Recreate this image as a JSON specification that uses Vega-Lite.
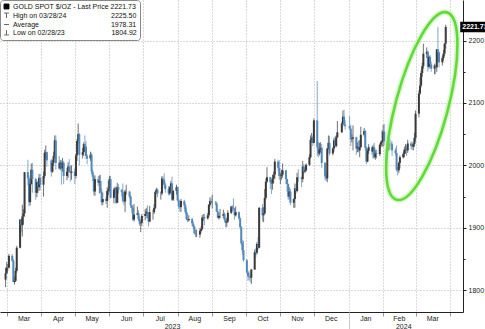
{
"$schema":"https://vega.github.io/schema/vega-lite/v6.json",
"width":463,"height":312,"autosize":{"type":"none"},"padding":{"left":0,"top":0,"right":22,"bottom":17},"background":"white",
"config":{"view":{"stroke":null},"font":"Liberation Sans","axis":{"labelFont":"Liberation Sans","labelFontSize":7,"labelColor":"#222","title":null,"labelFlush":false,"labelOverlap":false}},
"datasets":{
"candles":[
{"d":"2023-02-28","o":1817,"h":1836,"l":1804.92,"c":1827},
{"d":"2023-03-01","o":1827,"h":1845,"l":1826,"c":1836},
{"d":"2023-03-02","o":1836,"h":1842,"l":1831,"c":1836},
{"d":"2023-03-03","o":1836,"h":1858,"l":1835,"c":1855},
{"d":"2023-03-06","o":1855,"h":1858,"l":1845,"c":1847},
{"d":"2023-03-07","o":1847,"h":1850,"l":1813,"c":1813},
{"d":"2023-03-08","o":1813,"h":1822,"l":1809,"c":1815},
{"d":"2023-03-09","o":1815,"h":1836,"l":1813,"c":1831},
{"d":"2023-03-10","o":1831,"h":1871,"l":1828,"c":1868},
{"d":"2023-03-13","o":1868,"h":1914,"l":1867,"c":1913},
{"d":"2023-03-14","o":1913,"h":1913,"l":1893,"c":1904},
{"d":"2023-03-15","o":1904,"h":1937,"l":1886,"c":1918},
{"d":"2023-03-16","o":1918,"h":1930,"l":1905,"c":1923},
{"d":"2023-03-17","o":1923,"h":1989,"l":1918,"c":1989},
{"d":"2023-03-20","o":1989,"h":2009,"l":1968,"c":1979},
{"d":"2023-03-21","o":1979,"h":1984,"l":1934,"c":1941},
{"d":"2023-03-22","o":1941,"h":1973,"l":1936,"c":1970},
{"d":"2023-03-23","o":1970,"h":2003,"l":1969,"c":1993},
{"d":"2023-03-24","o":1993,"h":2004,"l":1956,"c":1978},
{"d":"2023-03-27","o":1978,"h":1980,"l":1945,"c":1956},
{"d":"2023-03-28","o":1956,"h":1974,"l":1949,"c":1973},
{"d":"2023-03-29","o":1973,"h":1976,"l":1955,"c":1965},
{"d":"2023-03-30","o":1965,"h":1986,"l":1959,"c":1980},
{"d":"2023-03-31","o":1980,"h":1987,"l":1960,"c":1969},
{"d":"2023-04-03","o":1969,"h":1990,"l":1950,"c":1983},
{"d":"2023-04-04","o":1983,"h":2025,"l":1979,"c":2020},
{"d":"2023-04-05","o":2020,"h":2032,"l":2010,"c":2021},
{"d":"2023-04-06","o":2021,"h":2022,"l":1998,"c":2008},
{"d":"2023-04-10","o":2008,"h":2010,"l":1982,"c":1990},
{"d":"2023-04-11","o":1990,"h":2009,"l":1988,"c":2004},
{"d":"2023-04-12","o":2004,"h":2022,"l":1999,"c":2015},
{"d":"2023-04-13","o":2015,"h":2048,"l":2011,"c":2040},
{"d":"2023-04-14","o":2040,"h":2048,"l":1993,"c":2004},
{"d":"2023-04-17","o":2004,"h":2015,"l":1994,"c":1995},
{"d":"2023-04-18","o":1995,"h":2009,"l":1992,"c":2005},
{"d":"2023-04-19","o":2005,"h":2008,"l":1969,"c":1995},
{"d":"2023-04-20","o":1995,"h":2012,"l":1990,"c":2004},
{"d":"2023-04-21","o":2004,"h":2007,"l":1970,"c":1983},
{"d":"2023-04-24","o":1983,"h":1996,"l":1976,"c":1990},
{"d":"2023-04-25","o":1990,"h":2005,"l":1980,"c":1998},
{"d":"2023-04-26","o":1998,"h":2010,"l":1990,"c":1990},
{"d":"2023-04-27","o":1990,"h":2000,"l":1974,"c":1988},
{"d":"2023-04-28","o":1988,"h":2000,"l":1977,"c":1990},
{"d":"2023-05-01","o":1990,"h":1995,"l":1970,"c":1983},
{"d":"2023-05-02","o":1983,"h":2019,"l":1979,"c":2016},
{"d":"2023-05-03","o":2016,"h":2042,"l":2007,"c":2039},
{"d":"2023-05-04","o":2039,"h":2067,"l":2034,"c":2050},
{"d":"2023-05-05","o":2050,"h":2052,"l":2000,"c":2017},
{"d":"2023-05-08","o":2017,"h":2028,"l":2011,"c":2021},
{"d":"2023-05-09","o":2021,"h":2037,"l":2015,"c":2034},
{"d":"2023-05-10","o":2034,"h":2048,"l":2022,"c":2030},
{"d":"2023-05-11","o":2030,"h":2039,"l":2010,"c":2015},
{"d":"2023-05-12","o":2015,"h":2018,"l":2002,"c":2011},
{"d":"2023-05-15","o":2011,"h":2022,"l":2007,"c":2017},
{"d":"2023-05-16","o":2017,"h":2020,"l":1986,"c":1990},
{"d":"2023-05-17","o":1990,"h":1993,"l":1975,"c":1982},
{"d":"2023-05-18","o":1982,"h":1985,"l":1952,"c":1958},
{"d":"2023-05-19","o":1958,"h":1984,"l":1951,"c":1978},
{"d":"2023-05-22","o":1978,"h":1983,"l":1967,"c":1972},
{"d":"2023-05-23","o":1972,"h":1984,"l":1955,"c":1975},
{"d":"2023-05-24","o":1975,"h":1985,"l":1956,"c":1958},
{"d":"2023-05-25","o":1958,"h":1963,"l":1936,"c":1941},
{"d":"2023-05-26","o":1941,"h":1956,"l":1936,"c":1946},
{"d":"2023-05-29","o":1946,"h":1950,"l":1938,"c":1943},
{"d":"2023-05-30","o":1943,"h":1965,"l":1932,"c":1959},
{"d":"2023-05-31","o":1959,"h":1975,"l":1952,"c":1962},
{"d":"2023-06-01","o":1962,"h":1983,"l":1957,"c":1978},
{"d":"2023-06-02","o":1978,"h":1983,"l":1947,"c":1948},
{"d":"2023-06-05","o":1948,"h":1964,"l":1939,"c":1961},
{"d":"2023-06-06","o":1961,"h":1966,"l":1954,"c":1963},
{"d":"2023-06-07","o":1963,"h":1966,"l":1938,"c":1940},
{"d":"2023-06-08","o":1940,"h":1972,"l":1940,"c":1965},
{"d":"2023-06-09","o":1965,"h":1970,"l":1955,"c":1961},
{"d":"2023-06-12","o":1961,"h":1962,"l":1950,"c":1957},
{"d":"2023-06-13","o":1957,"h":1971,"l":1940,"c":1943},
{"d":"2023-06-14","o":1943,"h":1959,"l":1936,"c":1942},
{"d":"2023-06-15","o":1942,"h":1961,"l":1925,"c":1958},
{"d":"2023-06-16","o":1958,"h":1969,"l":1953,"c":1958},
{"d":"2023-06-19","o":1958,"h":1959,"l":1947,"c":1950},
{"d":"2023-06-20","o":1950,"h":1952,"l":1932,"c":1936},
{"d":"2023-06-21","o":1936,"h":1937,"l":1924,"c":1932},
{"d":"2023-06-22","o":1932,"h":1934,"l":1911,"c":1913},
{"d":"2023-06-23","o":1913,"h":1938,"l":1910,"c":1921},
{"d":"2023-06-26","o":1921,"h":1934,"l":1920,"c":1923},
{"d":"2023-06-27","o":1923,"h":1928,"l":1911,"c":1914},
{"d":"2023-06-28","o":1914,"h":1918,"l":1903,"c":1907},
{"d":"2023-06-29","o":1907,"h":1911,"l":1893,"c":1908},
{"d":"2023-06-30","o":1908,"h":1922,"l":1903,"c":1919},
{"d":"2023-07-03","o":1919,"h":1930,"l":1912,"c":1922},
{"d":"2023-07-04","o":1922,"h":1932,"l":1919,"c":1926},
{"d":"2023-07-05","o":1926,"h":1936,"l":1916,"c":1915},
{"d":"2023-07-06","o":1915,"h":1925,"l":1902,"c":1910},
{"d":"2023-07-07","o":1910,"h":1935,"l":1909,"c":1925},
{"d":"2023-07-10","o":1925,"h":1929,"l":1913,"c":1925},
{"d":"2023-07-11","o":1925,"h":1938,"l":1922,"c":1932},
{"d":"2023-07-12","o":1932,"h":1960,"l":1930,"c":1957},
{"d":"2023-07-13","o":1957,"h":1964,"l":1954,"c":1961},
{"d":"2023-07-14","o":1961,"h":1963,"l":1949,"c":1955},
{"d":"2023-07-17","o":1955,"h":1958,"l":1945,"c":1955},
{"d":"2023-07-18","o":1955,"h":1983,"l":1952,"c":1979},
{"d":"2023-07-19","o":1979,"h":1982,"l":1969,"c":1977},
{"d":"2023-07-20","o":1977,"h":1987,"l":1964,"c":1969},
{"d":"2023-07-21","o":1969,"h":1972,"l":1956,"c":1962},
{"d":"2023-07-24","o":1962,"h":1967,"l":1952,"c":1955},
{"d":"2023-07-25","o":1955,"h":1966,"l":1952,"c":1965},
{"d":"2023-07-26","o":1965,"h":1975,"l":1956,"c":1971},
{"d":"2023-07-27","o":1971,"h":1982,"l":1943,"c":1945},
{"d":"2023-07-28","o":1945,"h":1961,"l":1943,"c":1959},
{"d":"2023-07-31","o":1959,"h":1969,"l":1953,"c":1965},
{"d":"2023-08-01","o":1965,"h":1966,"l":1942,"c":1944},
{"d":"2023-08-02","o":1944,"h":1946,"l":1930,"c":1934},
{"d":"2023-08-03","o":1934,"h":1938,"l":1926,"c":1933},
{"d":"2023-08-04","o":1933,"h":1946,"l":1925,"c":1943},
{"d":"2023-08-07","o":1943,"h":1945,"l":1930,"c":1936},
{"d":"2023-08-08","o":1936,"h":1939,"l":1922,"c":1925},
{"d":"2023-08-09","o":1925,"h":1931,"l":1912,"c":1914},
{"d":"2023-08-10","o":1914,"h":1923,"l":1909,"c":1912},
{"d":"2023-08-11","o":1912,"h":1920,"l":1910,"c":1914},
{"d":"2023-08-14","o":1914,"h":1916,"l":1902,"c":1907},
{"d":"2023-08-15","o":1907,"h":1910,"l":1899,"c":1902},
{"d":"2023-08-16","o":1902,"h":1904,"l":1890,"c":1891},
{"d":"2023-08-17","o":1891,"h":1897,"l":1885,"c":1889},
{"d":"2023-08-18","o":1889,"h":1897,"l":1885,"c":1889},
{"d":"2023-08-21","o":1889,"h":1899,"l":1884,"c":1895},
{"d":"2023-08-22","o":1895,"h":1902,"l":1892,"c":1898},
{"d":"2023-08-23","o":1898,"h":1920,"l":1896,"c":1916},
{"d":"2023-08-24","o":1916,"h":1922,"l":1911,"c":1917},
{"d":"2023-08-25","o":1917,"h":1922,"l":1904,"c":1915},
{"d":"2023-08-28","o":1915,"h":1924,"l":1913,"c":1920},
{"d":"2023-08-29","o":1920,"h":1938,"l":1917,"c":1937},
{"d":"2023-08-30","o":1937,"h":1949,"l":1934,"c":1943},
{"d":"2023-08-31","o":1943,"h":1947,"l":1938,"c":1940},
{"d":"2023-09-01","o":1940,"h":1953,"l":1931,"c":1940},
{"d":"2023-09-04","o":1940,"h":1943,"l":1936,"c":1939},
{"d":"2023-09-05","o":1939,"h":1942,"l":1925,"c":1926},
{"d":"2023-09-06","o":1926,"h":1929,"l":1915,"c":1916},
{"d":"2023-09-07","o":1916,"h":1924,"l":1913,"c":1919},
{"d":"2023-09-08","o":1919,"h":1930,"l":1915,"c":1919},
{"d":"2023-09-11","o":1919,"h":1929,"l":1915,"c":1922},
{"d":"2023-09-12","o":1922,"h":1925,"l":1909,"c":1913},
{"d":"2023-09-13","o":1913,"h":1915,"l":1901,"c":1908},
{"d":"2023-09-14","o":1908,"h":1916,"l":1901,"c":1910},
{"d":"2023-09-15","o":1910,"h":1928,"l":1908,"c":1924},
{"d":"2023-09-18","o":1924,"h":1935,"l":1922,"c":1934},
{"d":"2023-09-19","o":1934,"h":1936,"l":1926,"c":1931},
{"d":"2023-09-20","o":1931,"h":1947,"l":1928,"c":1930},
{"d":"2023-09-21","o":1930,"h":1932,"l":1913,"c":1920},
{"d":"2023-09-22","o":1920,"h":1934,"l":1918,"c":1925},
{"d":"2023-09-25","o":1925,"h":1926,"l":1912,"c":1915},
{"d":"2023-09-26","o":1915,"h":1917,"l":1897,"c":1901},
{"d":"2023-09-27","o":1901,"h":1903,"l":1872,"c":1875},
{"d":"2023-09-28","o":1875,"h":1880,"l":1857,"c":1864},
{"d":"2023-09-29","o":1864,"h":1879,"l":1846,"c":1848},
{"d":"2023-10-02","o":1848,"h":1850,"l":1827,"c":1828},
{"d":"2023-10-03","o":1828,"h":1832,"l":1815,"c":1822},
{"d":"2023-10-04","o":1822,"h":1830,"l":1816,"c":1821},
{"d":"2023-10-05","o":1821,"h":1826,"l":1813,"c":1820},
{"d":"2023-10-06","o":1820,"h":1834,"l":1810,"c":1833},
{"d":"2023-10-09","o":1833,"h":1865,"l":1833,"c":1861},
{"d":"2023-10-10","o":1861,"h":1867,"l":1853,"c":1860},
{"d":"2023-10-11","o":1860,"h":1877,"l":1857,"c":1874},
{"d":"2023-10-12","o":1874,"h":1885,"l":1865,"c":1868},
{"d":"2023-10-13","o":1868,"h":1933,"l":1867,"c":1932},
{"d":"2023-10-16","o":1932,"h":1938,"l":1910,"c":1920},
{"d":"2023-10-17","o":1920,"h":1933,"l":1909,"c":1923},
{"d":"2023-10-18","o":1923,"h":1962,"l":1922,"c":1948},
{"d":"2023-10-19","o":1948,"h":1979,"l":1945,"c":1974},
{"d":"2023-10-20","o":1974,"h":1997,"l":1972,"c":1981},
{"d":"2023-10-23","o":1981,"h":1981,"l":1962,"c":1973},
{"d":"2023-10-24","o":1973,"h":1977,"l":1954,"c":1971},
{"d":"2023-10-25","o":1971,"h":1985,"l":1961,"c":1979},
{"d":"2023-10-26","o":1979,"h":1990,"l":1971,"c":1985},
{"d":"2023-10-27","o":1985,"h":2010,"l":1978,"c":2006},
{"d":"2023-10-30","o":2006,"h":2009,"l":1991,"c":1996},
{"d":"2023-10-31","o":1996,"h":2008,"l":1977,"c":1983},
{"d":"2023-11-01","o":1983,"h":1988,"l":1970,"c":1983},
{"d":"2023-11-02","o":1983,"h":1993,"l":1977,"c":1985},
{"d":"2023-11-03","o":1985,"h":2003,"l":1980,"c":1992},
{"d":"2023-11-06","o":1992,"h":1993,"l":1970,"c":1978},
{"d":"2023-11-07","o":1978,"h":1979,"l":1958,"c":1970},
{"d":"2023-11-08","o":1970,"h":1971,"l":1945,"c":1950},
{"d":"2023-11-09","o":1950,"h":1965,"l":1945,"c":1958},
{"d":"2023-11-10","o":1958,"h":1962,"l":1936,"c":1940},
{"d":"2023-11-13","o":1940,"h":1947,"l":1932,"c":1946},
{"d":"2023-11-14","o":1946,"h":1971,"l":1932,"c":1963},
{"d":"2023-11-15","o":1963,"h":1970,"l":1955,"c":1959},
{"d":"2023-11-16","o":1959,"h":1988,"l":1957,"c":1981},
{"d":"2023-11-17","o":1981,"h":1994,"l":1974,"c":1980},
{"d":"2023-11-20","o":1980,"h":1982,"l":1965,"c":1978},
{"d":"2023-11-21","o":1978,"h":2007,"l":1973,"c":1998},
{"d":"2023-11-22","o":1998,"h":2002,"l":1986,"c":1990},
{"d":"2023-11-23","o":1990,"h":1996,"l":1988,"c":1992},
{"d":"2023-11-24","o":1992,"h":2003,"l":1990,"c":2001},
{"d":"2023-11-27","o":2001,"h":2018,"l":1999,"c":2013},
{"d":"2023-11-28","o":2013,"h":2048,"l":2011,"c":2041},
{"d":"2023-11-29","o":2041,"h":2052,"l":2036,"c":2044},
{"d":"2023-11-30","o":2044,"h":2048,"l":2031,"c":2036},
{"d":"2023-12-01","o":2036,"h":2075,"l":2035,"c":2072},
{"d":"2023-12-04","o":2072,"h":2135,"l":2015,"c":2029},
{"d":"2023-12-05","o":2029,"h":2038,"l":2013,"c":2019},
{"d":"2023-12-06","o":2019,"h":2036,"l":2016,"c":2025},
{"d":"2023-12-07","o":2025,"h":2037,"l":2021,"c":2028},
{"d":"2023-12-08","o":2028,"h":2034,"l":1996,"c":2004},
{"d":"2023-12-11","o":2004,"h":2005,"l":1976,"c":1982},
{"d":"2023-12-12","o":1982,"h":1990,"l":1975,"c":1979},
{"d":"2023-12-13","o":1979,"h":2028,"l":1973,"c":2027},
{"d":"2023-12-14","o":2027,"h":2048,"l":2025,"c":2036},
{"d":"2023-12-15","o":2036,"h":2047,"l":2016,"c":2019},
{"d":"2023-12-18","o":2019,"h":2029,"l":2016,"c":2027},
{"d":"2023-12-19","o":2027,"h":2044,"l":2022,"c":2040},
{"d":"2023-12-20","o":2040,"h":2047,"l":2029,"c":2031},
{"d":"2023-12-21","o":2031,"h":2048,"l":2029,"c":2045},
{"d":"2023-12-22","o":2045,"h":2071,"l":2044,"c":2053},
{"d":"2023-12-26","o":2053,"h":2070,"l":2052,"c":2067},
{"d":"2023-12-27","o":2067,"h":2088,"l":2065,"c":2078},
{"d":"2023-12-28","o":2078,"h":2089,"l":2062,"c":2065},
{"d":"2023-12-29","o":2065,"h":2072,"l":2057,"c":2063},
{"d":"2024-01-02","o":2063,"h":2079,"l":2057,"c":2059},
{"d":"2024-01-03","o":2059,"h":2065,"l":2031,"c":2042},
{"d":"2024-01-04","o":2042,"h":2050,"l":2037,"c":2043},
{"d":"2024-01-05","o":2043,"h":2064,"l":2024,"c":2045},
{"d":"2024-01-08","o":2045,"h":2046,"l":2017,"c":2027},
{"d":"2024-01-09","o":2027,"h":2037,"l":2021,"c":2030},
{"d":"2024-01-10","o":2030,"h":2040,"l":2021,"c":2024},
{"d":"2024-01-11","o":2024,"h":2040,"l":2013,"c":2029},
{"d":"2024-01-12","o":2029,"h":2062,"l":2028,"c":2049},
{"d":"2024-01-15","o":2049,"h":2060,"l":2046,"c":2055},
{"d":"2024-01-16","o":2055,"h":2057,"l":2023,"c":2028},
{"d":"2024-01-17","o":2028,"h":2030,"l":2002,"c":2006},
{"d":"2024-01-18","o":2006,"h":2026,"l":2005,"c":2023},
{"d":"2024-01-19","o":2023,"h":2034,"l":2018,"c":2029},
{"d":"2024-01-22","o":2029,"h":2031,"l":2017,"c":2022},
{"d":"2024-01-23","o":2022,"h":2033,"l":2011,"c":2029},
{"d":"2024-01-24","o":2029,"h":2036,"l":2011,"c":2013},
{"d":"2024-01-25","o":2013,"h":2025,"l":2009,"c":2020},
{"d":"2024-01-26","o":2020,"h":2025,"l":2011,"c":2018},
{"d":"2024-01-29","o":2018,"h":2035,"l":2015,"c":2033},
{"d":"2024-01-30","o":2033,"h":2040,"l":2029,"c":2037},
{"d":"2024-01-31","o":2037,"h":2056,"l":2030,"c":2039},
{"d":"2024-02-01","o":2039,"h":2065,"l":2030,"c":2054},
{"d":"2024-02-02","o":2054,"h":2066,"l":2032,"c":2039},
{"d":"2024-02-05","o":2039,"h":2041,"l":2015,"c":2025},
{"d":"2024-02-06","o":2025,"h":2040,"l":2023,"c":2035},
{"d":"2024-02-07","o":2035,"h":2043,"l":2030,"c":2035},
{"d":"2024-02-08","o":2035,"h":2040,"l":2025,"c":2034},
{"d":"2024-02-09","o":2034,"h":2038,"l":2015,"c":2024},
{"d":"2024-02-12","o":2024,"h":2028,"l":2016,"c":2020},
{"d":"2024-02-13","o":2020,"h":2032,"l":1990,"c":1993},
{"d":"2024-02-14","o":1993,"h":1998,"l":1984,"c":1992},
{"d":"2024-02-15","o":1992,"h":2006,"l":1988,"c":2004},
{"d":"2024-02-16","o":2004,"h":2016,"l":1995,"c":2013},
{"d":"2024-02-19","o":2013,"h":2021,"l":2011,"c":2018},
{"d":"2024-02-20","o":2018,"h":2030,"l":2013,"c":2025},
{"d":"2024-02-21","o":2025,"h":2034,"l":2019,"c":2026},
{"d":"2024-02-22","o":2026,"h":2032,"l":2015,"c":2024},
{"d":"2024-02-23","o":2024,"h":2041,"l":2020,"c":2035},
{"d":"2024-02-26","o":2035,"h":2038,"l":2025,"c":2031},
{"d":"2024-02-27","o":2031,"h":2038,"l":2025,"c":2030},
{"d":"2024-02-28","o":2030,"h":2036,"l":2024,"c":2034},
{"d":"2024-02-29","o":2034,"h":2052,"l":2030,"c":2044},
{"d":"2024-03-01","o":2044,"h":2088,"l":2038,"c":2083},
{"d":"2024-03-04","o":2083,"h":2120,"l":2077,"c":2115},
{"d":"2024-03-05","o":2115,"h":2141,"l":2113,"c":2128},
{"d":"2024-03-06","o":2128,"h":2152,"l":2125,"c":2148},
{"d":"2024-03-07","o":2148,"h":2165,"l":2142,"c":2159},
{"d":"2024-03-08","o":2159,"h":2195,"l":2155,"c":2179},
{"d":"2024-03-11","o":2179,"h":2189,"l":2172,"c":2182},
{"d":"2024-03-12","o":2182,"h":2184,"l":2150,"c":2158},
{"d":"2024-03-13","o":2158,"h":2175,"l":2155,"c":2174},
{"d":"2024-03-14","o":2174,"h":2177,"l":2155,"c":2162},
{"d":"2024-03-15","o":2162,"h":2166,"l":2150,"c":2155},
{"d":"2024-03-18","o":2155,"h":2163,"l":2146,"c":2160},
{"d":"2024-03-19","o":2160,"h":2161,"l":2146,"c":2157},
{"d":"2024-03-20","o":2157,"h":2186,"l":2150,"c":2186},
{"d":"2024-03-21","o":2186,"h":2222,"l":2167,"c":2181},
{"d":"2024-03-22","o":2181,"h":2183,"l":2157,"c":2165},
{"d":"2024-03-25","o":2165,"h":2176,"l":2160,"c":2172},
{"d":"2024-03-26","o":2172,"h":2185,"l":2168,"c":2179},
{"d":"2024-03-27","o":2179,"h":2196,"l":2175,"c":2195},
{"d":"2024-03-28","o":2195,"h":2225.5,"l":2187,"c":2221.73}
],
"legend":[
{"s":"GOLD SPOT $/OZ - Last Price 2221.73"},
{"s":"High on 03/28/24\u00a0\u00a0\u00a0\u00a0\u00a0\u00a0\u00a0\u00a0\u00a0\u00a0\u00a0\u00a0\u00a0\u00a0\u00a0\u00a0\u00a0\u00a0\u00a0\u00a0\u00a0\u00a0\u00a02225.50"},
{"s":"Average\u00a0\u00a0\u00a0\u00a0\u00a0\u00a0\u00a0\u00a0\u00a0\u00a0\u00a0\u00a0\u00a0\u00a0\u00a0\u00a0\u00a0\u00a0\u00a0\u00a0\u00a0\u00a0\u00a0\u00a0\u00a0\u00a0\u00a0\u00a0\u00a0\u00a0\u00a0\u00a0\u00a0\u00a0\u00a0\u00a0\u00a01978.31"},
{"s":"Low on 02/28/23\u00a0\u00a0\u00a0\u00a0\u00a0\u00a0\u00a0\u00a0\u00a0\u00a0\u00a0\u00a0\u00a0\u00a0\u00a0\u00a0\u00a0\u00a0\u00a0\u00a0\u00a0\u00a0\u00a0\u00a01804.92"}
],
"ring":[{"d":"2024-03-06T14:00:00Z","p":2095}],
"tag":[{"d":"2024-04-10","d2":"2024-05-10","lo":2213.5,"hi":2230,"p":2221.73,"v":"2221.73"}]
},
"layer":[
{"data":{"name":"candles"},"mark":{"type":"rule","strokeWidth":0.8},
 "encoding":{
  "x":{"field":"d","type":"temporal","scale":{"type":"utc","nice":false,
    "domain":[{"year":2023,"month":2,"date":27,"hours":12,"utc":true},{"year":2024,"month":4,"date":8,"utc":true}]},
   "axis":{"orient":"bottom","values":[{"year":2023,"month":3,"date":1,"utc":true},{"year":2023,"month":4,"date":1,"utc":true},{"year":2023,"month":5,"date":1,"utc":true},{"year":2023,"month":6,"date":1,"utc":true},{"year":2023,"month":7,"date":1,"utc":true},{"year":2023,"month":8,"date":1,"utc":true},{"year":2023,"month":9,"date":1,"utc":true},{"year":2023,"month":10,"date":1,"utc":true},{"year":2023,"month":11,"date":1,"utc":true},{"year":2023,"month":12,"date":1,"utc":true},{"year":2024,"month":1,"date":1,"utc":true},{"year":2024,"month":2,"date":1,"utc":true},{"year":2024,"month":3,"date":1,"utc":true},{"year":2024,"month":4,"date":1,"utc":true}],
     "labels":false,"ticks":true,"tickSize":4,"tickColor":"#999","grid":true,"gridColor":"#b4b4b4","gridDash":[1,2],"domain":true,"domainColor":"#222"}},
  "y":{"field":"l","type":"quantitative","scale":{"domain":[1765,2265],"nice":false,"zero":false},
   "axis":{"orient":"right","values":[1800,1900,2000,2100,2200],"format":"d","tickSize":3,"tickColor":"#222","domainColor":"#222","grid":true,"gridColor":"#b4b4b4","gridDash":[1,2],"labelPadding":2}},
  "y2":{"field":"h"},
  "color":{"condition":{"test":"datum.c >= datum.o","value":"#4d4d4d"},"value":"#6592bd"}
 }},
{"data":{"name":"candles"},"mark":{"type":"bar","width":2},
 "encoding":{
  "x":{"field":"d","type":"temporal","scale":{"type":"utc"},
   "axis":{"orient":"bottom","values":[{"year":2023,"month":3,"date":16,"utc":true},{"year":2023,"month":4,"date":16,"utc":true},{"year":2023,"month":5,"date":16,"utc":true},{"year":2023,"month":6,"date":16,"utc":true},{"year":2023,"month":7,"date":16,"utc":true},{"year":2023,"month":8,"date":16,"utc":true},{"year":2023,"month":9,"date":16,"utc":true},{"year":2023,"month":10,"date":16,"utc":true},{"year":2023,"month":11,"date":16,"utc":true},{"year":2023,"month":12,"date":16,"utc":true},{"year":2024,"month":1,"date":16,"utc":true},{"year":2024,"month":2,"date":15,"utc":true},{"year":2024,"month":3,"date":16,"utc":true}],
    "format":"%b","ticks":false,"domain":false,"grid":false,"labelPadding":2}},
  "y":{"field":"o","type":"quantitative",
   "axis":{"orient":"right","values":[1850,1950,2050,2150],"labels":false,"domain":false,"grid":false,"tickSize":2,"tickColor":"#222"}},
  "y2":{"field":"c"},
  "color":{"condition":{"test":"datum.c >= datum.o","value":"#3a3a3a"},"value":"#5287ba"}
 }},
{"data":{"name":"ring"},"mark":{"type":"point","shape":"M25.1,-93.7A97,26.2,-75,1,1,-25.1,93.7A97,26.2,-75,1,1,25.1,-93.7Z","size":4,"filled":false,"stroke":"#c2f5ab","strokeWidth":6,"opacity":0.6},
 "encoding":{
  "x":{"field":"d","type":"temporal","scale":{"type":"utc"},
   "axis":{"orient":"bottom","values":[{"year":2023,"month":7,"date":27,"utc":true},{"year":2024,"month":2,"date":19,"utc":true}],"format":"%Y","ticks":false,"domain":false,"grid":false,"labelPadding":10}},
  "y":{"field":"p","type":"quantitative","axis":null}
 }},
{"data":{"name":"ring"},"mark":{"type":"point","shape":"M25.1,-93.7A97,26.2,-75,1,1,-25.1,93.7A97,26.2,-75,1,1,25.1,-93.7Z","size":4,"filled":false,"stroke":"#62d83c","strokeWidth":2.6,"opacity":1},
 "encoding":{
  "x":{"field":"d","type":"temporal","scale":{"type":"utc"},
   "axis":{"orient":"bottom","values":[{"year":2024,"month":1,"date":1,"utc":true}],"labels":false,"tickSize":17,"tickColor":"#c8c8c8","domain":false,"grid":false}},
  "y":{"field":"p","type":"quantitative","axis":null}
 }},
{"data":{"name":"tag"},"mark":{"type":"rect","fill":"#000"},
 "encoding":{
  "x":{"field":"d","type":"temporal","scale":{"type":"utc"},"axis":null},
  "x2":{"field":"d2"},
  "y":{"field":"lo","type":"quantitative","axis":null},
  "y2":{"field":"hi"}
 }},
{"data":{"name":"tag"},"mark":{"type":"text","align":"left","baseline":"middle","dx":2,"fill":"white","fontSize":7,"fontWeight":"bold","font":"Liberation Sans"},
 "encoding":{
  "x":{"field":"d","type":"temporal","scale":{"type":"utc"},"axis":null},
  "y":{"field":"p","type":"quantitative","axis":null},
  "text":{"field":"v"}
 }},
{"data":{"name":"legend"},"mark":{"type":"point","opacity":0,"strokeWidth":1},
 "encoding":{
  "shape":{"field":"s","type":"nominal","sort":null,"scale":{"range":["square","M-1,-1H1M0,-1V1","M-1,0H1","M0,-1V1M-1,1H1"]},
   "legend":{"orient":"top-left","offset":0,"padding":3,"fillColor":"white","strokeColor":"#888","cornerRadius":3,"title":null,"labelFont":"Liberation Sans","labelFontSize":7,"labelColor":"#111","symbolSize":24,"symbolStrokeWidth":1,"symbolOpacity":1,"rowPadding":0,"labelOffset":3,"labelLimit":300}},
  "fill":{"field":"s","type":"nominal","sort":null,"scale":{"range":["#000000","transparent","transparent","transparent"]},
   "legend":{"orient":"top-left","offset":0,"padding":3,"fillColor":"white","strokeColor":"#888","cornerRadius":3,"title":null,"labelFont":"Liberation Sans","labelFontSize":7,"labelColor":"#111","symbolSize":24,"symbolStrokeWidth":1,"symbolOpacity":1,"rowPadding":0,"labelOffset":3,"labelLimit":300}},
  "stroke":{"field":"s","type":"nominal","sort":null,"scale":{"range":["#000000","#666666","#666666","#666666"]},
   "legend":{"orient":"top-left","offset":0,"padding":3,"fillColor":"white","strokeColor":"#888","cornerRadius":3,"title":null,"labelFont":"Liberation Sans","labelFontSize":7,"labelColor":"#111","symbolSize":24,"symbolStrokeWidth":1,"symbolOpacity":1,"rowPadding":0,"labelOffset":3,"labelLimit":300}}
 }}
],
"resolve":{"axis":{"x":"independent","y":"independent"}}
}
